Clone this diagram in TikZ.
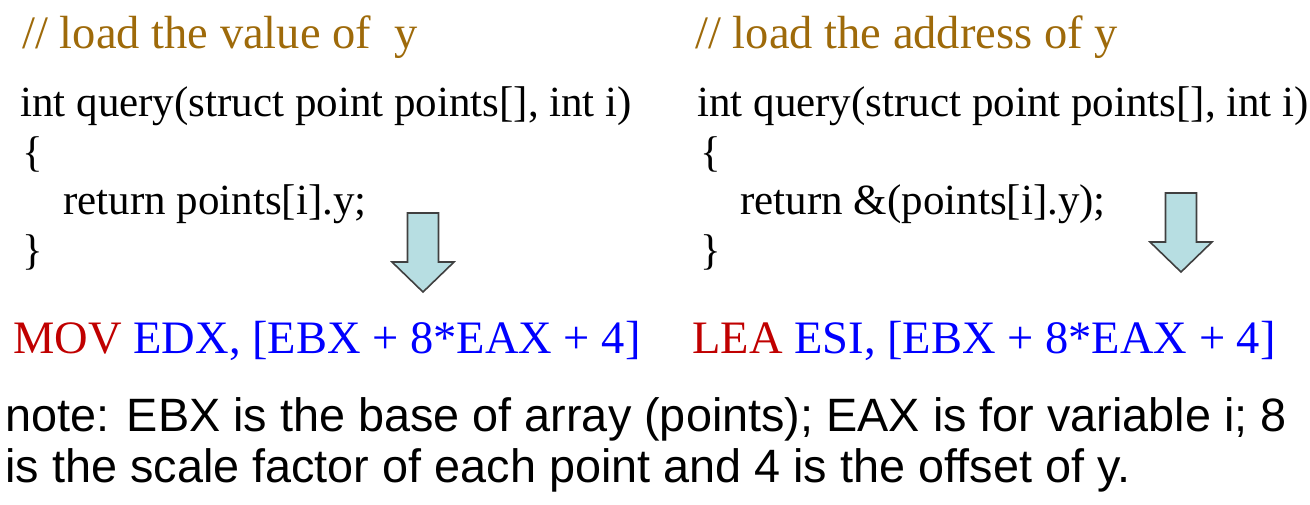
\documentclass[tikz,border=0pt]{standalone}
\usepackage{fontspec}
\setmainfont{Liberation Serif}
\setsansfont{Liberation Sans}
\usetikzlibrary{positioning}

\definecolor{commentbrown}{RGB}{158,106,10}
\definecolor{opred}{RGB}{192,0,0}
\definecolor{argblue}{RGB}{0,0,255}
\definecolor{arrowfill}{RGB}{183,222,226}

\tikzset{
  downarrow/.pic={
    \draw[draw=black!75, fill=arrowfill, line width=0.8pt]
      (0,0) -- (-31,-30) -- (-15.5,-30) -- (-15.5,-79)
      -- (15.5,-79) -- (15.5,-30) -- (31,-30) -- cycle;
  }
}

\begin{document}
\begin{tikzpicture}[x=0.5pt,y=-0.5pt,
  every node/.style={inner sep=0pt, anchor=base west},
  comment/.style={text=commentbrown, font=\fontsize{23.25}{28}\selectfont},
  code/.style={font=\fontsize{21.5}{26}\selectfont},
  asm/.style={font=\fontsize{23.25}{28}\selectfont},
  note/.style={font=\sffamily\fontsize{23.4}{26}\selectfont}]
  \useasboundingbox (0,0) rectangle (1310,504);

  % left: load the value
  \node[comment] (lcom) at (22,48) {// load the value of \ y};
  \node[code] (lhead) at (20,116) {int query(struct point points[], int i)};
  \node[code] (lopen) at (22,166) {\{};
  \node[code] (lret) at (63,214) {return points[i].y;};
  \node[code] (lclose) at (22,264) {\}};
  \pic at (423,292) {downarrow};
  \node[asm] (lasm) at (13,353) {\textcolor{opred}{MOV} \textcolor{argblue}{EDX, [EBX + 8*EAX + 4]}};

  % right: load the address
  \node[comment] (rcom) at (695,48) {// load the address of y};
  \node[code] (rhead) at (697,116) {int query(struct point points[], int i)};
  \node[code] (ropen) at (700,166) {\{};
  \node[code] (rret) at (740,214) {return \&(points[i].y);};
  \node[code] (rclose) at (700,264) {\}};
  \pic at (1181,272) {downarrow};
  \node[asm] (rasm) at (692,353) {\textcolor{opred}{LEA} \textcolor{argblue}{ESI, [EBX + 8*EAX + 4]}};

  % note
  \node[note] (note1) at (5,431) {note: EBX is the base of array (points); EAX is for variable i; 8};
  \node[note] (note2) at (5,482) {is the scale factor of each point and 4 is the offset of y.};
\end{tikzpicture}
\end{document}
